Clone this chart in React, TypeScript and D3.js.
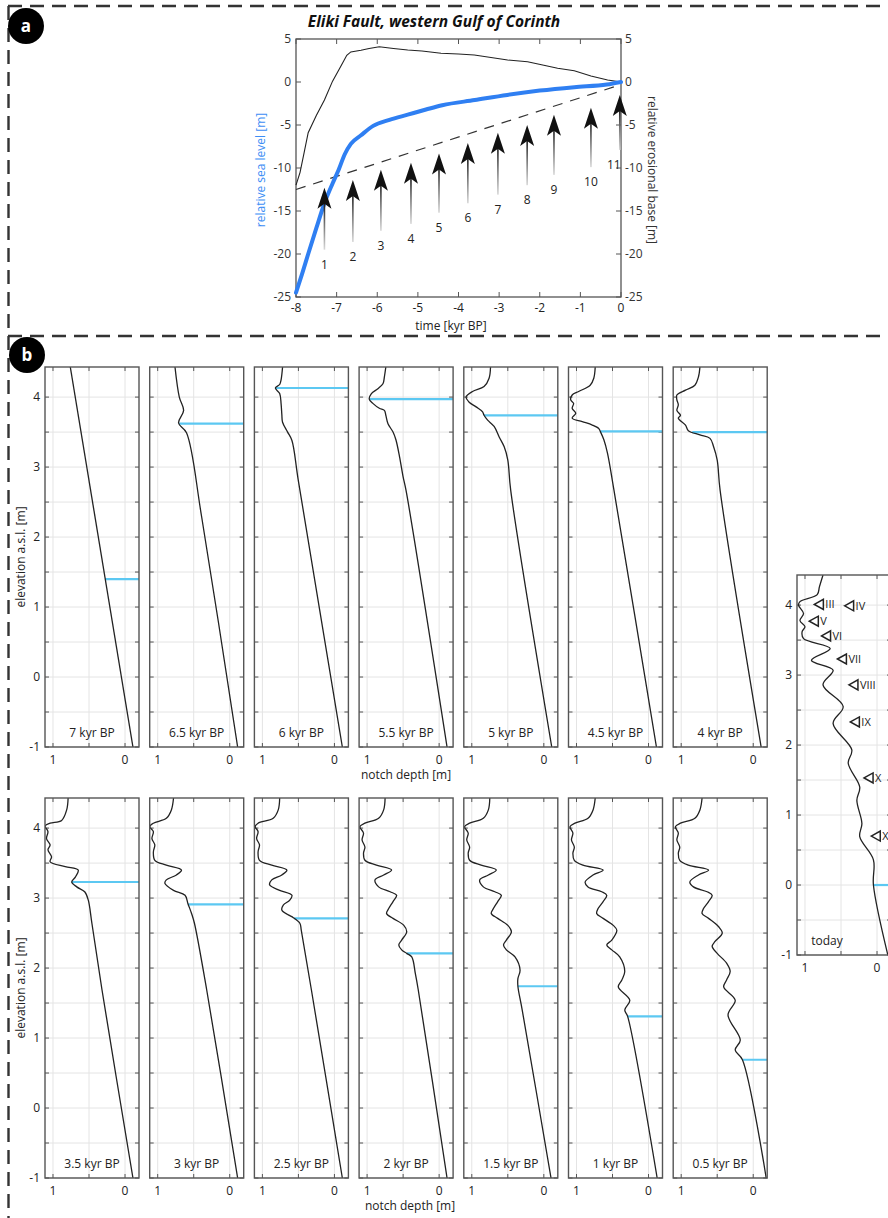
import React from 'react';
import * as d3 from 'd3';

const FONT = '"Open Sans", Lato, "DejaVu Sans", sans-serif';

// ---------- Panel a data ----------
const timeTicks = [-8, -7, -6, -5, -4, -3, -2, -1, 0];
const levelTicks = [5, 0, -5, -10, -15, -20, -25];

const seaLevelTime = [-8, -7.85, -7.7, -7.5, -7.3, -7.1, -6.95, -6.8, -6.65, -6.4, -6.1, -5.7, -5.25, -4.8, -4.4, -3.6, -2.8, -2.0, -1.15, -0.35, 0];
const seaLevelValue = [-24.5, -22.3, -20, -17, -14.1, -11.8, -10.2, -8.4, -7.2, -6.2, -5.1, -4.4, -3.8, -3.2, -2.7, -2.1, -1.5, -1.0, -0.6, -0.3, 0];

const baseTime = [-8, -7.9, -7.8, -7.7, -7.5, -7.3, -7.1, -6.9, -6.75, -6.65, -6.4, -6.2, -5.95, -5.6, -5.25, -4.9, -4.43, -4.0, -3.61, -3.2, -2.79, -2.3, -1.9, -1.56, -1.15, -0.74, -0.33, 0];
const baseValue = [-12, -10.5, -8.2, -5.9, -3.9, -2.1, 0.1, 1.8, 3.1, 3.5, 3.7, 3.9, 4.1, 3.9, 3.72, 3.6, 3.34, 3.25, 3.14, 2.85, 2.56, 2.36, 1.95, 1.59, 1.3, 0.7, 0.23, 0];

const dashedTime = [-8, 0];
const dashedValue = [-12.5, -0.3];

const arrowTime = [-7.3, -6.6, -5.91, -5.17, -4.48, -3.77, -3.03, -2.31, -1.65, -0.74, -0.03];
const arrowTip = [-12.3, -11.4, -10.2, -9.4, -8.3, -7.1, -5.9, -5.0, -3.8, -3.0, -1.5];
const arrowFoot = [-19.5, -18.6, -17.3, -16.5, -15.2, -14.1, -13.1, -12.0, -10.8, -9.9, -7.9];
const arrowLabels = ['1', '2', '3', '4', '5', '6', '7', '8', '9', '10', '11'];

// ---------- Panel b data ----------
const depthTicks = [1, 0.5, 0];
const depthLabels = [1, 0];
const elevGrid = [-1, -0.5, 0, 0.5, 1, 1.5, 2, 2.5, 3, 3.5, 4];
const elevLabels = [-1, 0, 1, 2, 3, 4];

const row1Labels = ['7 kyr BP', '6.5 kyr BP', '6 kyr BP', '5.5 kyr BP', '5 kyr BP', '4.5 kyr BP', '4 kyr BP'];
const row2Labels = ['3.5 kyr BP', '3 kyr BP', '2.5 kyr BP', '2 kyr BP', '1.5 kyr BP', '1 kyr BP', '0.5 kyr BP'];
const row1Stand = [1.4, 3.62, 4.13, 3.97, 3.74, 3.51, 3.5];
const row2Stand = [3.23, 2.91, 2.71, 2.21, 1.74, 1.31, 0.69];
const todayStand = 0;

// profiles: [notch depth, elevation]
const p7kyr = [[0.76, 4.43], [-0.11, -1]];
const p65kyr = [[0.76, 4.43], [0.7, 4.0], [0.64, 3.81], [0.71, 3.63], [0.6, 3.49], [0.39, 2.29], [-0.11, -1]];
const p6kyr = [[0.72, 4.43], [0.74, 4.25], [0.76, 4.18], [0.82, 4.13], [0.76, 4.05], [0.74, 3.9], [0.73, 3.75], [0.72, 3.64], [0.65, 3.5], [0.59, 3.38], [0.5, 2.8], [-0.11, -1]];
const p55kyr = [[0.74, 4.43], [0.76, 4.29], [0.78, 4.19], [0.85, 4.12], [0.94, 4.05], [0.97, 3.97], [0.92, 3.91], [0.83, 3.84], [0.76, 3.81], [0.74, 3.74], [0.71, 3.62], [0.64, 3.5], [0.6, 3.39], [0.55, 3.15], [0.5, 2.86], [0.46, 2.67], [-0.11, -1]];
const p5kyr = [[0.74, 4.43], [0.76, 4.27], [0.83, 4.15], [0.99, 4.08], [1.08, 4.0], [1.04, 3.93], [0.94, 3.86], [0.85, 3.79], [0.83, 3.74], [0.78, 3.67], [0.69, 3.58], [0.62, 3.43], [0.55, 3.29], [0.5, 3.1], [0.46, 2.67], [-0.11, -1]];
const p45kyr = [[0.74, 4.43], [0.76, 4.27], [0.81, 4.17], [0.97, 4.08], [1.06, 4.03], [1.08, 3.96], [1.04, 3.91], [1.06, 3.84], [1.01, 3.77], [1.06, 3.7], [0.92, 3.65], [0.78, 3.6], [0.69, 3.55], [0.67, 3.51], [0.62, 3.39], [0.57, 3.2], [0.48, 2.67], [-0.11, -1]];
const p4kyr = [[0.74, 4.43], [0.76, 4.29], [0.81, 4.17], [0.94, 4.1], [1.06, 4.03], [1.06, 3.96], [1.04, 3.89], [1.06, 3.81], [1.01, 3.74], [1.04, 3.7], [0.94, 3.6], [0.9, 3.52], [0.74, 3.46], [0.6, 3.41], [0.55, 3.29], [0.5, 3.1], [0.46, 2.67], [-0.11, -1]];

const p35kyr = [[0.79, 4.43], [0.81, 4.26], [0.88, 4.11], [1.04, 4.07], [1.11, 4.03], [1.07, 3.95], [1.09, 3.85], [1.04, 3.76], [1.07, 3.69], [1.02, 3.59], [1.04, 3.52], [0.83, 3.45], [0.65, 3.4], [0.69, 3.3], [0.74, 3.23], [0.67, 3.16], [0.56, 3.09], [0.51, 2.97], [0.46, 2.64], [0.32, 1.69], [-0.11, -1]];
const p3kyr = [[0.78, 4.43], [0.81, 4.26], [0.88, 4.14], [1.06, 4.07], [1.11, 4.02], [1.06, 3.95], [1.08, 3.85], [1.04, 3.76], [1.06, 3.66], [1.04, 3.54], [0.88, 3.47], [0.67, 3.4], [0.74, 3.33], [0.88, 3.26], [0.9, 3.21], [0.78, 3.11], [0.62, 3.04], [0.58, 2.92], [0.53, 2.78], [0.49, 2.64], [0.32, 1.69], [-0.11, -1]];
const p25kyr = [[0.76, 4.43], [0.78, 4.26], [0.85, 4.14], [1.06, 4.07], [1.1, 4.02], [1.06, 3.95], [1.08, 3.85], [1.04, 3.76], [1.06, 3.66], [1.04, 3.54], [0.87, 3.47], [0.66, 3.4], [0.73, 3.33], [0.87, 3.26], [0.9, 3.19], [0.76, 3.11], [0.59, 3.04], [0.62, 2.97], [0.71, 2.9], [0.73, 2.83], [0.64, 2.76], [0.57, 2.72], [0.48, 2.64], [0.46, 2.54], [0.32, 1.69], [-0.11, -1]];
const p2kyr = [[0.75, 4.43], [0.77, 4.26], [0.84, 4.14], [1.03, 4.07], [1.1, 4.02], [1.05, 3.93], [1.07, 3.83], [1.03, 3.73], [1.05, 3.64], [1.03, 3.54], [0.87, 3.47], [0.66, 3.4], [0.77, 3.33], [0.89, 3.26], [0.84, 3.16], [0.68, 3.09], [0.59, 3.04], [0.64, 2.95], [0.7, 2.85], [0.73, 2.78], [0.64, 2.71], [0.49, 2.61], [0.45, 2.52], [0.52, 2.4], [0.56, 2.33], [0.52, 2.26], [0.45, 2.21], [0.38, 2.16], [0.33, 1.92], [0.29, 1.69], [-0.11, -1]];
const p15kyr = [[0.75, 4.43], [0.77, 4.26], [0.84, 4.14], [1.03, 4.07], [1.1, 4.02], [1.05, 3.93], [1.07, 3.83], [1.03, 3.73], [1.05, 3.64], [1.03, 3.54], [0.87, 3.47], [0.66, 3.4], [0.77, 3.33], [0.89, 3.26], [0.84, 3.16], [0.68, 3.09], [0.59, 3.04], [0.64, 2.95], [0.7, 2.85], [0.73, 2.78], [0.64, 2.71], [0.5, 2.61], [0.45, 2.52], [0.52, 2.4], [0.56, 2.33], [0.52, 2.26], [0.4, 2.16], [0.33, 1.97], [0.36, 1.85], [0.36, 1.74], [0.3, 1.4], [-0.1, -1]];
const p1kyr = [[0.74, 4.43], [0.77, 4.26], [0.84, 4.14], [1.02, 4.07], [1.09, 4.02], [1.05, 3.93], [1.07, 3.83], [1.03, 3.73], [1.05, 3.64], [1.03, 3.54], [0.91, 3.47], [0.63, 3.4], [0.77, 3.33], [0.88, 3.23], [0.84, 3.16], [0.65, 3.09], [0.58, 3.04], [0.63, 2.95], [0.7, 2.85], [0.72, 2.78], [0.63, 2.71], [0.49, 2.61], [0.44, 2.54], [0.51, 2.4], [0.58, 2.33], [0.51, 2.26], [0.4, 2.16], [0.33, 1.95], [0.37, 1.83], [0.42, 1.73], [0.26, 1.54], [0.33, 1.4], [0.29, 1.31], [-0.12, -1]];
const p05kyr = [[0.71, 4.43], [0.74, 4.26], [0.81, 4.14], [1.01, 4.07], [1.08, 4.02], [1.04, 3.93], [1.06, 3.83], [1.02, 3.73], [1.04, 3.64], [1.02, 3.54], [0.9, 3.47], [0.62, 3.4], [0.76, 3.33], [0.88, 3.23], [0.83, 3.16], [0.64, 3.09], [0.57, 3.04], [0.62, 2.95], [0.69, 2.85], [0.71, 2.78], [0.62, 2.71], [0.48, 2.59], [0.43, 2.5], [0.53, 2.38], [0.57, 2.31], [0.5, 2.21], [0.37, 2.07], [0.32, 1.95], [0.37, 1.83], [0.41, 1.73], [0.25, 1.54], [0.35, 1.33], [0.18, 0.97], [0.25, 0.83], [0.15, 0.69], [-0.18, -1]];
const pToday = [[0.75, 4.43], [0.8, 4.26], [0.83, 4.15], [1.07, 4.05], [1.09, 4.0], [1.02, 3.88], [1.07, 3.78], [1.0, 3.69], [1.04, 3.62], [1.02, 3.52], [0.65, 3.38], [0.91, 3.21], [0.61, 3.07], [0.75, 2.86], [0.47, 2.55], [0.61, 2.31], [0.35, 1.93], [0.4, 1.74], [0.24, 1.4], [0.28, 1.21], [0.21, 0.88], [0.24, 0.69], [0.05, 0.36], [0.05, 0], [-0.15, -1]];

const row1Profiles = [p7kyr, p65kyr, p6kyr, p55kyr, p5kyr, p45kyr, p4kyr];
const row2Profiles = [p35kyr, p3kyr, p25kyr, p2kyr, p15kyr, p1kyr, p05kyr];

const notchNames = ['III', 'IV', 'V', 'VI', 'VII', 'VIII', 'IX', 'X', 'XI'];
const notchDepth = [0.87, 0.45, 0.94, 0.77, 0.55, 0.39, 0.37, 0.18, 0.08];
const notchElev = [4.01, 3.99, 3.77, 3.56, 3.23, 2.86, 2.33, 1.53, 0.7];

// ---------- helpers ----------
function depthAt(profile: number[][], e: number): number {
  for (let i = profile.length - 1; i > 0; i--) {
    const [d1, e1] = profile[i];
    const [d0, e0] = profile[i - 1];
    if ((e1 - e) * (e0 - e) <= 0 && e0 !== e1) {
      return d1 + (d0 - d1) * (e - e1) / (e0 - e1);
    }
  }
  return profile[0][0];
}

const AX = '#555';

type PanelProps = {
  left: number; top: number; profile: number[][]; stand: number; label: string;
  showY: boolean; labelX?: number; notches?: boolean;
};

const PW = 94, PH = 380;

function Panel({ left, top, profile, stand, label, showY, labelX, notches }: PanelProps) {
  const x = d3.scaleLinear().domain([1.111, -0.194]).range([left, left + PW]);
  const y = d3.scaleLinear().domain([-1, 4.43]).range([top + PH, top]);
  const line = d3.line<number[]>().x(p => x(p[0])).y(p => y(p[1])).curve(d3.curveCatmullRom.alpha(0.5));
  const sd = depthAt(profile, stand);
  const clipId = `clip-${Math.round(left)}-${top}`;
  return (
    <g>
      <defs>
        <clipPath id={clipId}><rect x={left} y={top} width={PW} height={PH} /></clipPath>
      </defs>
      <rect x={left} y={top} width={PW} height={PH} fill="#fff" />
      {elevGrid.map(e => (
        <line key={'g' + e} x1={left} x2={left + PW} y1={y(e)} y2={y(e)} stroke="#e4e4e4" strokeWidth={1} />
      ))}
      {depthTicks.map(d => (
        <line key={'v' + d} x1={x(d)} x2={x(d)} y1={top} y2={top + PH} stroke="#e4e4e4" strokeWidth={1} />
      ))}
      {elevGrid.map(e => (
        <g key={'t' + e}>
          <line x1={left} x2={left + 4} y1={y(e)} y2={y(e)} stroke={AX} strokeWidth={1} />
          <line x1={left + PW - 4} x2={left + PW} y1={y(e)} y2={y(e)} stroke={AX} strokeWidth={1} />
        </g>
      ))}
      {depthTicks.map(d => (
        <g key={'u' + d}>
          <line x1={x(d)} x2={x(d)} y1={top} y2={top + 4} stroke={AX} strokeWidth={1} />
          <line x1={x(d)} x2={x(d)} y1={top + PH - 4} y2={top + PH} stroke={AX} strokeWidth={1} />
        </g>
      ))}
      <g clipPath={`url(#${clipId})`}>
        <line x1={x(sd)} x2={left + PW} y1={y(stand)} y2={y(stand)} stroke="#5cc8f2" strokeWidth={2.2} />
        <path d={line(profile) || ''} fill="none" stroke="#222" strokeWidth={1.3} strokeLinejoin="round" />
      </g>
      {notches && notchNames.map((n, i) => {
        const cx = x(notchDepth[i]);
        const cy = y(notchElev[i]);
        return (
          <g key={n}>
            <path d={`M${cx},${cy} L${cx + 9},${cy - 5} L${cx + 9},${cy + 5} Z`} fill="#fff" stroke="#222" strokeWidth={1.5} />
            <text x={cx + 11} y={cy + 4} fontSize={11} fontFamily={FONT} fill="#222">{n}</text>
          </g>
        );
      })}
      <rect x={left} y={top} width={PW} height={PH} fill="none" stroke={AX} strokeWidth={1.4} />
      <text x={labelX ?? left + PW / 2} y={top + PH - 10} fontSize={12} fontFamily={FONT} textAnchor="middle" fill="#222">{label}</text>
      {depthLabels.map(d => (
        <text key={'dl' + d} x={x(d)} y={top + PH + 17} fontSize={12} fontFamily={FONT} textAnchor="middle" fill="#222">{d}</text>
      ))}
      {showY && elevLabels.map(e => (
        <text key={'el' + e} x={left - 5} y={y(e) + 4} fontSize={12} fontFamily={FONT} textAnchor="end" fill="#222">{e}</text>
      ))}
    </g>
  );
}

function PanelA() {
  const x = d3.scaleLinear().domain([-8, 0]).range([296, 621]);
  const y = d3.scaleLinear().domain([-25, 5]).range([297, 39]);
  const mk = (ts: number[], vs: number[], curve?: d3.CurveFactory) => {
    const l = d3.line<number>().x((_, i) => x(ts[i])).y((_, i) => y(vs[i]));
    if (curve) l.curve(curve);
    return l(ts) || '';
  };
  const [x0, x1] = x.range();
  const [yb, yt] = y.range();
  return (
    <g>
      <defs>
        <linearGradient id="shaft" x1="0" y1="0" x2="0" y2="1">
          <stop offset="0" stopColor="#111" />
          <stop offset="0.5" stopColor="#777" />
          <stop offset="1" stopColor="#d8d8d8" />
        </linearGradient>
      </defs>
      <text x={434} y={27} fontSize={15.5} fontWeight="bold" fontStyle="italic" fontFamily={FONT} textAnchor="middle" fill="#111">Eliki Fault, western Gulf of Corinth</text>
      <rect x={x0} y={yt} width={x1 - x0} height={yb - yt} fill="#fff" stroke={AX} strokeWidth={1.3} />
      {timeTicks.map(t => (
        <g key={'tt' + t}>
          <line x1={x(t)} x2={x(t)} y1={yb} y2={yb - 5} stroke={AX} />
          <line x1={x(t)} x2={x(t)} y1={yt} y2={yt + 5} stroke={AX} />
          <text x={x(t)} y={yb + 15} fontSize={12} fontFamily={FONT} textAnchor="middle" fill="#222">{t}</text>
        </g>
      ))}
      {levelTicks.map(v => (
        <g key={'lt' + v}>
          <line x1={x0} x2={x0 + 5} y1={y(v)} y2={y(v)} stroke={AX} />
          <line x1={x1 - 5} x2={x1} y1={y(v)} y2={y(v)} stroke={AX} />
          <text x={x0 - 5} y={y(v) + 4} fontSize={12} fontFamily={FONT} textAnchor="end" fill="#333">{v}</text>
          <text x={x1 + 4} y={y(v) + 4} fontSize={12} fontFamily={FONT} textAnchor="start" fill="#333">{v}</text>
        </g>
      ))}
      <path d={mk(dashedTime, dashedValue)} fill="none" stroke="#333" strokeWidth={1.2} strokeDasharray="10,8" />
      <path d={mk(baseTime, baseValue)} fill="none" stroke="#222" strokeWidth={1.1} />
      <path d={mk(seaLevelTime, seaLevelValue, d3.curveMonotoneX)} fill="none" stroke="#2f7ff2" strokeWidth={4} strokeLinecap="round" />
      {arrowTime.map((t, i) => {
        const ax = x(t);
        const ty = y(arrowTip[i]);
        const fy = y(arrowFoot[i]);
        return (
          <g key={'ar' + i}>
            <rect x={ax - 0.8} y={ty + 12} width={1.6} height={fy - ty - 12} fill="url(#shaft)" />
            <path d={`M${ax},${ty} L${ax + 7},${ty + 21} L${ax},${ty + 16} L${ax - 7},${ty + 21} Z`} fill="#111" />
            <text x={ax - (i === 10 ? 6 : 0)} y={fy + 19} fontSize={12} fontFamily={FONT} textAnchor="middle" fill="#222">{arrowLabels[i]}</text>
          </g>
        );
      })}
      <text x={451} y={330} fontSize={12} fontFamily={FONT} textAnchor="middle" fill="#222">time [kyr BP]</text>
      <text transform="translate(265,170) rotate(-90)" fontSize={12} fontFamily={FONT} textAnchor="middle" fill="#3d8ef5">relative sea level [m]</text>
      <text transform="translate(648,170) rotate(90)" fontSize={12} fontFamily={FONT} textAnchor="middle" fill="#333">relative erosional base [m]</text>
    </g>
  );
}

export default function App() {
  const stepX = 104.7;
  const row1Top = 367, row2Top = 798;
  return (
    <svg width={888} height={1218} style={{ position: 'absolute', left: 0, top: 0, background: '#fff' }}>
      <rect x={0} y={0} width={888} height={1218} fill="#fff" />
      <line x1={8} x2={888} y1={6} y2={6} stroke="#333" strokeWidth={2.4} strokeDasharray="14,8" />
      <line x1={8} x2={888} y1={336} y2={336} stroke="#333" strokeWidth={2.4} strokeDasharray="14,8" />
      <line x1={8.5} x2={8.5} y1={6} y2={1218} stroke="#333" strokeWidth={2.4} strokeDasharray="14,8" />
      <PanelA />
      {row1Profiles.map((p, i) => (
        <Panel key={'r1' + i} left={45 + i * stepX} top={row1Top} profile={p} stand={row1Stand[i]} label={row1Labels[i]} showY={i === 0} />
      ))}
      {row2Profiles.map((p, i) => (
        <Panel key={'r2' + i} left={45 + i * stepX} top={row2Top} profile={p} stand={row2Stand[i]} label={row2Labels[i]} showY={i === 0} />
      ))}
      <Panel left={797} top={575} profile={pToday} stand={todayStand} label="today" showY={true} labelX={827} notches={true} />
      <text x={406} y={779} fontSize={12} fontFamily={FONT} textAnchor="middle" fill="#222">notch depth [m]</text>
      <text x={410} y={1210} fontSize={12} fontFamily={FONT} textAnchor="middle" fill="#222">notch depth [m]</text>
      <text transform="translate(25,557) rotate(-90)" fontSize={12} fontFamily={FONT} textAnchor="middle" fill="#222">elevation a.s.l. [m]</text>
      <text transform="translate(25,988) rotate(-90)" fontSize={12} fontFamily={FONT} textAnchor="middle" fill="#222">elevation a.s.l. [m]</text>
      <circle cx={26} cy={26} r={18} fill="#000" />
      <text x={26} y={32} fontSize={17} fontWeight="bold" fontFamily={FONT} textAnchor="middle" fill="#fff">a</text>
      <circle cx={27} cy={355} r={18} fill="#000" />
      <text x={27} y={361} fontSize={17} fontWeight="bold" fontFamily={FONT} textAnchor="middle" fill="#fff">b</text>
    </svg>
  );
}
